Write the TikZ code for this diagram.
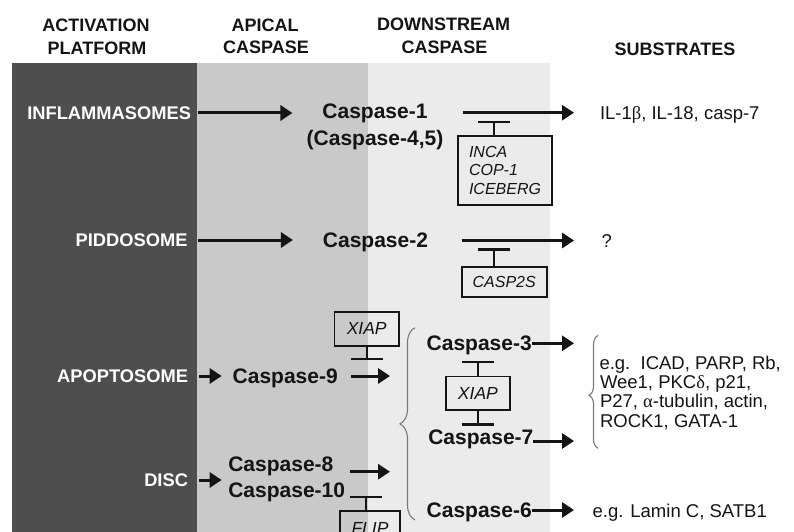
\documentclass[tikz,border=0pt]{standalone}
\usepackage{fontspec}
\setmainfont{Liberation Sans}
\newfontfamily\grk{Liberation Serif}
\usetikzlibrary{arrows.meta,decorations.pathreplacing}

\definecolor{bandA}{HTML}{4E4E4E}
\definecolor{bandB}{HTML}{C9C9C9}
\definecolor{bandC}{HTML}{EBEBEB}
\definecolor{ink}{HTML}{141414}
\definecolor{bracegray}{HTML}{7A7A7A}

\newcommand\fsz[1]{\fontsize{#1}{#1}\selectfont}

\tikzset{
  txt/.style={inner sep=0pt, outer sep=0pt, text=ink},
  hdr/.style={txt, font=\fsz{18}\bfseries, text height=12.9pt, text depth=0pt},
  plat/.style={txt, text=white, font=\fsz{18.3}\bfseries, anchor=east, text height=13.1pt, text depth=0pt},
  casp/.style={txt, font=\fsz{21}\bfseries, text height=15pt, text depth=0pt},
  subs/.style={txt, font=\fsz{18.5}, anchor=west, text height=13.25pt, text depth=0pt},
  inhbox/.style={draw=ink, line width=1.6pt, inner sep=0pt, text=ink, font=\fsz{16}\itshape},
  boxline/.style={text height=11.5pt, text depth=0pt},
  xiapbox/.style={inhbox, font=\fsz{17.5}\itshape, text height=12.5pt, text depth=0pt},
  act/.style={draw=ink, line width=3pt, -{Triangle[length=12pt,width=15pt]}},
  inh/.style={draw=ink, line width=2.3pt, -{Bar[width=32pt]}},
  brc/.style={draw=bracegray, line width=1.1pt, decorate},
}

\begin{document}
\begin{tikzpicture}[x=1pt, y=-1pt]
\useasboundingbox (0,0) rectangle (794,532);
\clip (0,0) rectangle (794,532);

% column bands
\fill[bandA] (12,63) rectangle (197,532);
\fill[bandB] (197,63) rectangle (368,532);
\fill[bandC] (368,63) rectangle (550,532);

% column headings
\node[hdr] (h1a) at (96,25.5) {ACTIVATION};
\node[hdr] (h1b) at (97,48) {PLATFORM};
\node[hdr] (h2a) at (265,25) {APICAL};
\node[hdr] (h2b) at (266,46.7) {CASPASE};
\node[hdr] (h3a) at (443.5,24) {DOWNSTREAM};
\node[hdr] (h3b) at (444.5,46.7) {CASPASE};
\node[hdr] (h4) at (675,49) {SUBSTRATES};

% activation platforms
\node[plat] (inflam) at (191,113) {INFLAMMASOMES};
\node[plat] (pidd) at (187.5,240) {PIDDOSOME};
\node[plat] (apop) at (188,376) {APOPTOSOME};
\node[plat] (disc) at (188,480) {DISC};

% caspases
\node[casp] (c1) at (375,111) {Caspase-1};
\node[casp] (c45) at (375,137.7) {(Caspase-4,5)};
\node[casp] (c2) at (375.5,239.5) {Caspase-2};
\node[casp, anchor=west] (c9) at (232.7,376) {Caspase-9};
\node[casp, anchor=west] (c8) at (228.3,464.3) {Caspase-8};
\node[casp, anchor=west] (c10) at (228.3,490) {Caspase-10};
\node[casp, anchor=west] (c3) at (426.7,343.3) {Caspase-3};
\node[casp, anchor=west] (c7) at (428.3,436.7) {Caspase-7};
\node[casp, anchor=west] (c6) at (426.7,510) {Caspase-6};

% substrates
\node[subs] (s1) at (600,112.7) {IL-1{\grk β}, IL-18, casp-7};
\node[subs] (s2) at (601.7,240.5) {?};
\node[subs] (s3a) at (599.5,362.7) {e.g.\ \ ICAD, PARP, Rb,};
\node[subs] (s3b) at (600,382) {Wee1, PKC{\grk δ}, p21,};
\node[subs] (s3c) at (600,401.3) {P27, {\grk α}-tubulin, actin,};
\node[subs] (s3d) at (600,420.6) {ROCK1, GATA-1};
\node[subs] (s6) at (592.7,511) {e.g. Lamin C, SATB1};

% inhibitors
\node[inhbox, minimum width=94pt, minimum height=69.3pt, align=left,
      font=\fontsize{16}{18.8}\selectfont\itshape] (inca) at (505,170.4) {INCA\\COP-1\\ICEBERG};
\node[inhbox, boxline, minimum width=85pt, minimum height=30pt] (casp2s) at (504.2,281.7) {CASP2S};
\node[xiapbox, minimum width=64.7pt, minimum height=34pt] (xiap1) at (366.7,328.7) {XIAP};
\node[xiapbox, minimum width=64.3pt, minimum height=33.3pt] (xiap2) at (477.9,393.3) {XIAP};
\node[xiapbox, minimum width=60pt, minimum height=34pt] (flip) at (370,528) {FLIP};

% inhibition bars
\coordinate (t1) at (494,120.7);
\coordinate (t2) at (494,248.3);
\coordinate (t3) at (366.7,360);
\coordinate (t4) at (477.9,361);
\coordinate (t5) at (477.9,425.7);
\coordinate (t6) at (366,496);
\draw[inh] (inca.north -| t1) -- (t1);
\draw[inh] (casp2s.north -| t2) -- (t2);
\draw[inh] (xiap1.south) -- (t3);
\draw[inh] (xiap2.north) -- (t4);
\draw[inh] (xiap2.south) -- (t5);
\draw[inh] (flip.north -| t6) -- (t6);

% braces
\coordinate (bz) at (400,423.3);
\draw[brc, decoration={brace, amplitude=15pt}] (415,520) -- (415,327.7);
\draw[brc, decoration={brace, amplitude=9pt, aspect=0.47}] (598,448.3) -- (598,335.5);

% activation arrows
\coordinate (a8) at (390,471.7);
\coordinate (a7) at (574,441);
\draw[act, shorten <=7pt, shorten >=30pt] (inflam.east) -- (c1.west |- inflam.east);
\draw[act, shorten <=35pt, shorten >=26pt] (c1.east |- s1.west) -- (s1.west);
\draw[act, shorten <=10.5pt, shorten >=30pt] (pidd.east) -- (c2.west |- pidd.east);
\draw[act, shorten <=33.7pt, shorten >=27.7pt] (c2.east |- s2.west) -- (s2.west);
\draw[act, shorten <=11.3pt, shorten >=11pt] (apop.east) -- (c9.west |- apop.east);
\draw[act, shorten <=13pt, shorten >=10pt] (c9.east) -- (c9.east -| bz);
\draw[act, shorten <=11pt, shorten >=6.6pt] (disc.east) -- (disc.east -| c8.west);
\draw[act, shorten <=16.7pt] (c8.east |- a8) -- (a8);
\draw[act, shorten >=25.5pt] (c3.east) -- (c3.east -| s3a.west);
\draw[act] (c7.east |- a7) -- (a7);
\draw[act, shorten >=18.7pt] (c6.east) -- (c6.east -| s6.west);
\end{tikzpicture}
\end{document}
